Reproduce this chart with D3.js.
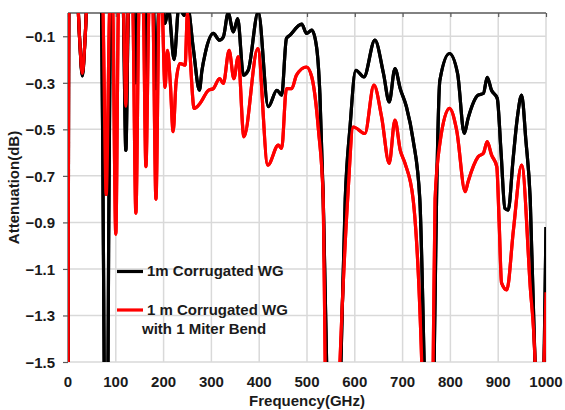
<!DOCTYPE html>
<html><head><meta charset="utf-8">
<script src="https://cdn.jsdelivr.net/npm/d3@7"></script>
<style>body{margin:0;background:#fff}svg{display:block}text{font-family:"Liberation Sans",Arial,sans-serif;font-weight:bold;fill:#1a1a1a}</style>
</head><body><svg id="c" width="565" height="410"></svg>
<script>
// ---- data ----
const xTicks = [0,100,200,300,400,500,600,700,800,900,1000];
const yTicks = [-0.1,-0.3,-0.5,-0.7,-0.9,-1.1,-1.3,-1.5];
const seriesNames = ["1m Corrugated WG", "1 m Corrugated WG|with 1 Miter Bend"];
const blackFreq = [0,2,20,24,30,36,40,70,74,78,82,85,90,115,121,127,137,142,147,158,163,168,178,184,190,196,203,210,222,232,243,250,262,275,280,287,304,317,325,335,346,355,367,377,398,419,437,447,457,464,489,499,510,520,527,534,541,556,571,580,590,602,619,642,660,672,684,695,708,722,736,745,755,766,771,778,798,815,829,837,858,869,877,886,898,906,914,921,931,940,949,958,967,977,987,996,1000];
const blackVal  = [-2,0.1,0.05,-0.1,-0.27,-0.1,0.05,0.05,-1.0,-2.0,-2.0,-1.0,0.05,0.05,-0.59,0.05,0.05,-0.3,0.05,0.05,-0.3,0.05,0.05,-0.325,0.02,0.03,-0.045,0.02,-0.2,0.03,-0.01,0.03,-0.15,-0.332,-0.25,-0.174,-0.088,-0.117,-0.103,0.0,-0.081,-0.024,-0.267,-0.246,0.005,-0.403,-0.332,-0.353,-0.11,-0.096,-0.048,-0.088,-0.074,-0.146,-0.35,-0.8,-1.5,-2.5,-1.5,-0.8,-0.49,-0.246,-0.275,-0.117,-0.26,-0.382,-0.239,-0.325,-0.403,-0.546,-0.8,-1.5,-2.5,-1.5,-0.8,-0.289,-0.174,-0.26,-0.518,-0.453,-0.353,-0.346,-0.277,-0.332,-0.367,-0.6,-0.84,-0.847,-0.632,-0.45,-0.353,-0.55,-0.8,-1.5,-2.5,-1.5,-0.92];
const redFreq = [0,2,20,24,30,36,40,72,80,88,93,100,106,115,121,127,135,142,149,157,163,170,177,184,191,196,203,208,214,220,226,234,245,250,255,264,276,294,304,317,325,337,347,356,368,397,418,440,447,457,468,478,499,510,524,534,538,553,569,585,597,621,640,656,672,684,695,705,722,740,752,764,768,778,798,813,831,837,858,869,877,886,897,902,907,918,932,949,967,977,987,996,1000];
const redVal  = [-2,0.1,0.05,-0.1,-0.26,-0.1,0.05,0.05,-0.78,0.05,0.05,-0.95,0.05,0.05,-0.40,0.05,0.05,-0.86,0.05,0.05,-0.66,0.05,0.05,-0.80,0.05,0.05,-0.32,-0.16,-0.3,-0.51,-0.3,-0.217,-0.224,0.0,-0.167,-0.41,-0.389,-0.332,-0.325,-0.282,-0.303,-0.16,-0.282,-0.189,-0.532,-0.153,-0.654,-0.568,-0.582,-0.325,-0.325,-0.267,-0.232,-0.275,-0.503,-0.8,-1.5,-2.5,-1.5,-0.8,-0.49,-0.518,-0.31,-0.446,-0.646,-0.46,-0.589,-0.646,-0.8,-1.5,-2.5,-1.5,-0.8,-0.56,-0.41,-0.503,-0.768,-0.725,-0.618,-0.603,-0.553,-0.61,-0.66,-0.9,-1.16,-1.19,-0.93,-0.654,-1.176,-1.5,-2.5,-1.5,-1.2];
const seriesColors = ["#000000","#ff0000"];

// ---- chart ----
const svg = d3.select("#c");
const L=68,R=546,T=13,B=362;
const x = d3.scaleLinear().domain([0,1000]).range([L,R]);
const y = d3.scaleLinear().domain([-1.5,0]).range([B,T]);

// grid
const g = svg.append("g");
g.selectAll(".vg").data(xTicks).join("line")
  .attr("x1",d=>x(d)).attr("x2",d=>x(d)).attr("y1",T).attr("y2",B)
  .attr("stroke","#d9d9d9").attr("stroke-width",1.5);
g.selectAll(".hg").data(yTicks).join("line")
  .attr("x1",L).attr("x2",R).attr("y1",d=>y(d)).attr("y2",d=>y(d))
  .attr("stroke","#d9d9d9").attr("stroke-width",1.5);

// clip
svg.append("clipPath").attr("id","clip").append("rect")
  .attr("x",L).attr("y",T).attr("width",R-L).attr("height",B-T);

const line = d3.line().x(d=>x(d[0])).y(d=>y(d[1])).curve(d3.curveMonotoneX);
const series = [d3.zip(blackFreq,blackVal), d3.zip(redFreq,redVal)];
svg.append("g").attr("clip-path","url(#clip)").selectAll("path").data(series).join("path")
  .attr("d",line).attr("fill","none")
  .attr("stroke",(d,i)=>seriesColors[i]).attr("stroke-width",3.2)
  .attr("stroke-linejoin","round");

// axes lines
const axisColor="#595959";
// top (x axis crossing at 0)
const xa = d3.axisTop(x).tickValues(xTicks).tickSize(-4).tickFormat("");
const xg = svg.append("g").attr("transform",`translate(0,${T})`).call(xa);
xg.select(".domain").attr("stroke",axisColor).attr("stroke-width",1.5).attr("d",`M${L},0H${R}`);
xg.selectAll(".tick line").attr("stroke",axisColor).attr("stroke-width",1.2);
// left
const ya = d3.axisLeft(y).tickValues(yTicks).tickSize(5).tickFormat(d3.format(".1f"));
const yg = svg.append("g").attr("transform",`translate(${L},0)`).call(ya);
yg.select(".domain").attr("stroke",axisColor).attr("stroke-width",1.2).attr("d",`M0,${T}V${B}`);
yg.selectAll(".tick line").attr("stroke",axisColor).attr("stroke-width",1.2);
yg.selectAll(".tick text").attr("x",-13).attr("dy","0.36em").style("font-size","15px").style("font-family","'Liberation Sans',Arial,sans-serif").style("font-weight","bold").attr("fill","#1a1a1a");
// redraw series over the left axis
svg.append("g").attr("clip-path","url(#clip)").selectAll("path").data(series).join("path")
  .attr("d",line).attr("fill","none")
  .attr("stroke",(d,i)=>seriesColors[i]).attr("stroke-width",3.2)
  .attr("stroke-linejoin","round");

// x tick labels at bottom
svg.append("g").selectAll("text").data(xTicks).join("text")
  .attr("x",d=>x(d)).attr("y",386.5).attr("text-anchor","middle")
  .style("font-size","15px").text(d=>d);

// axis titles
svg.append("text").attr("x",(L+R)/2).attr("y",406).attr("text-anchor","middle")
  .style("font-size","15px").text("Frequency(GHz)");
svg.append("text").attr("transform",`translate(19,${(T+B)/2}) rotate(-90)`).attr("text-anchor","middle")
  .style("font-size","15px").text("Attenuation(dB)");

// legend
const leg = svg.append("g");
const legY = [271.5, 310];
leg.selectAll("line").data(seriesColors).join("line")
  .attr("x1",117).attr("x2",143).attr("y1",(d,i)=>legY[i]).attr("y2",(d,i)=>legY[i])
  .attr("stroke",d=>d).attr("stroke-width",3.2);
seriesNames.forEach((n,i)=>{
  const t = leg.append("text").attr("x",147).attr("y",legY[i]+4.5).style("font-size","15px");
  n.split("|").forEach((s,j)=>t.append("tspan").attr("x",j? 142:147).attr("dy",j?19:0).text(s));
});
</script></body></html>
